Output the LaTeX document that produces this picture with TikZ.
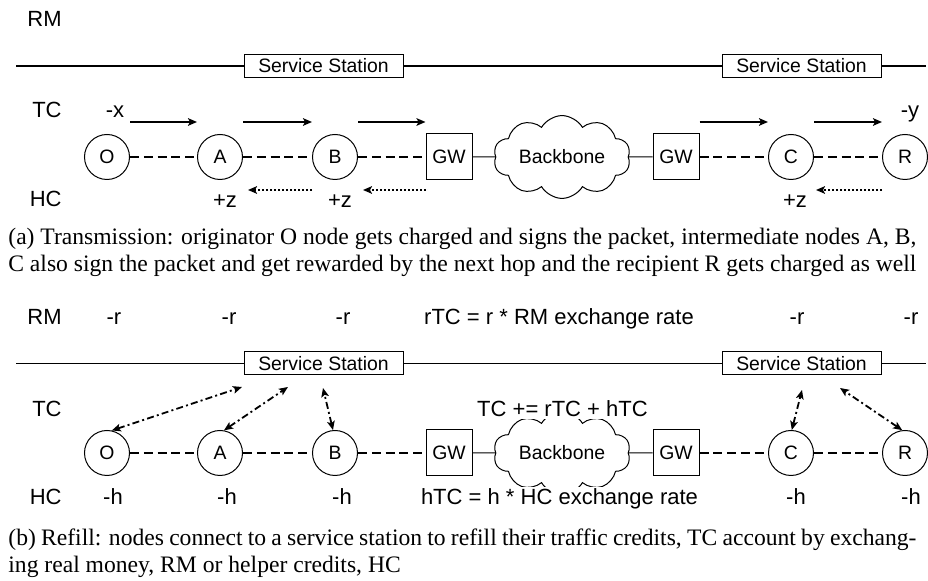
\documentclass[tikz,border=0pt]{standalone}
\usepackage{fontspec}
\setmainfont{Liberation Serif}
\setsansfont{Liberation Sans}
\usetikzlibrary{shapes.symbols,arrows.meta,calc}

\tikzset{
  lbl/.style={font=\fontsize{11pt}{13pt}\selectfont\sffamily, inner sep=0pt, anchor=base},
  rowlbl/.style={lbl, anchor=base east},
  nd/.style={circle, draw, line width=0.5pt, minimum size=22.5pt, inner sep=0pt,
    font=\fontsize{9.7pt}{11pt}\selectfont\sffamily},
  gw/.style={rectangle, draw, line width=0.5pt, minimum size=23pt, inner sep=0pt,
    font=\fontsize{9.7pt}{11pt}\selectfont\sffamily},
  station/.style={rectangle, draw, fill=white, line width=0.5pt, minimum width=79.5pt,
    minimum height=11.5pt, inner sep=0pt, font=\fontsize{9.7pt}{11pt}\selectfont\sffamily},
  bb/.style={cloud, draw, cloud puffs=10, cloud puff arc=120, aspect=1.9,
    minimum width=68.5pt, minimum height=35pt, inner sep=0pt, line width=0.5pt,
    font=\fontsize{9.7pt}{11pt}\selectfont\sffamily},
  link/.style={line width=0.9pt, dash pattern=on 4.5pt off 2.4pt},
  wire/.style={line width=0.5pt},
  rail/.style={line width=0.7pt},
  fwd/.style={line width=1pt, -{Stealth[length=4.5pt,width=3.8pt,inset=1pt]}},
  reward/.style={line width=1pt, dash pattern=on 1pt off 1pt,
    -{Stealth[length=4.5pt,width=3.8pt,inset=1pt]}},
  refill/.style={line width=0.9pt, dash pattern=on 3.5pt off 1.6pt on 1pt off 1.6pt,
    {Stealth[length=4.5pt,width=3.8pt,inset=1pt]}-{Stealth[length=4.5pt,width=3.8pt,inset=1pt]}},
  captext/.style={font=\fontsize{11.8pt}{13.5pt}\selectfont\rmfamily, inner sep=0pt, anchor=base west}
}

\begin{document}
\begin{tikzpicture}[x=0.5pt, y=-0.5pt]
\fill[white] (0,0) rectangle (928,581);
\useasboundingbox (0,0) rectangle (928,581);

% ---------------- (a) transmission ----------------
\node[rowlbl] (rmA) at (62,27) {RM};
\node[rowlbl] (tcA) at (62,118) {TC};
\node[rowlbl] (hcA) at (62,207) {HC};

% service station rail
\coordinate (railAl) at (16,66);
\coordinate (railAr) at (926,66);
\node[station] (ssA1) at (323.5,66) {Service Station};
\node[station] (ssA2) at (801.5,66) {Service Station};
\draw[rail] (railAl) -- (ssA1.west);
\draw[rail] (ssA1.east) -- (ssA2.west);
\draw[rail] (ssA2.east) -- (railAr);

% path of the packet
\node[nd] (oA) at (107,157) {O};
\node[nd] (aA) at (220,157) {A};
\node[nd] (bA) at (335,157) {B};
\node[gw] (gA1) at (449,157) {GW};
\node[bb] (cloudA) at (562,157) {Backbone};
\node[gw] (gA2) at (676,157) {GW};
\node[nd] (cA) at (791,157) {C};
\node[nd] (rA) at (905,157) {R};

\draw[link] (oA) -- (aA);
\draw[link] (aA) -- (bA);
\draw[link] (bA) -- (gA1);
\draw[wire] (gA1) -- (cloudA);
\draw[wire] (cloudA) -- (gA2);
\draw[link] (gA2) -- (cA);
\draw[link] (cA) -- (rA);

% traffic credits flow forward
\draw[fwd] ($(oA.east)+(0,-35)$) -- ($(aA.west)+(0,-35)$);
\draw[fwd] ($(aA.east)+(0,-35)$) -- ($(bA.west)+(0,-35)$);
\draw[fwd] ($(bA.east)+(0,-35)$) -- ($(gA1.west)+(0,-35)$);
\draw[fwd] ($(gA2.east)+(0,-35)$) -- ($(cA.west)+(0,-35)$);
\draw[fwd] ($(cA.east)+(0,-35)$) -- ($(rA.west)+(0,-35)$);

% helper credits flow back
\draw[reward] ($(bA.west)+(0,33)$) -- ($(aA.east)+(5,33)$);
\draw[reward] ($(gA1.west)+(0,33)$) -- ($(bA.east)+(5,33)$);
\draw[reward] ($(rA.west)+(0,33)$) -- ($(cA.east)+(2,33)$);

\node[lbl] (mx) at (115,118) {-x};
\node[lbl] (my) at (910,118) {-y};
\node[lbl] (pz1) at (225,208) {+z};
\node[lbl] (pz2) at (340,208) {+z};
\node[lbl] (pz3) at (795,208) {+z};

\node[captext] (capA1) at (8,245) {\makebox[454pt][s]{(a) Transmission: originator O node gets charged and signs the packet, intermediate nodes A, B,}};
\node[captext] (capA2) at (8,272) {\makebox[454pt][s]{C also sign the packet and get rewarded by the next hop and the recipient R gets charged as well}};

% ---------------- (b) refill ----------------
\node[rowlbl] (rmB) at (62,325) {RM};
\node[rowlbl] (tcB) at (62,416.5) {TC};
\node[rowlbl] (hcB) at (62,505) {HC};

\coordinate (railBl) at (16,363.5);
\coordinate (railBr) at (926,363.5);
\node[station] (ssB1) at (323.5,363.5) {Service Station};
\node[station] (ssB2) at (801.5,363.5) {Service Station};
\draw[rail] (railBl) -- (ssB1.west);
\draw[rail] (ssB1.east) -- (ssB2.west);
\draw[rail] (ssB2.east) -- (railBr);

\node[nd] (oB) at (107,453) {O};
\node[nd] (aB) at (220,453) {A};
\node[nd] (bB) at (335,453) {B};
\node[gw] (gB1) at (449,453) {GW};
\node[bb] (cloudB) at (562,453) {Backbone};
\node[gw] (gB2) at (676,453) {GW};
\node[nd] (cB) at (791,453) {C};
\node[nd] (rB) at (905,453) {R};

\draw[link] (oB) -- (aB);
\draw[link] (aB) -- (bB);
\draw[link] (bB) -- (gB1);
\draw[wire] (gB1) -- (cloudB);
\draw[wire] (cloudB) -- (gB2);
\draw[link] (gB2) -- (cB);
\draw[link] (cB) -- (rB);

% exchanges with the service stations
\coordinate (sO) at (242,387);
\coordinate (sA) at (288,387);
\coordinate (sB) at (323,388);
\coordinate (sC) at (802,390);
\coordinate (sR) at (840,388);
\draw[refill] (oB.78) -- (sO);
\draw[refill] (aB.80) -- (sA);
\draw[refill] (bB.95) -- (sB);
\draw[refill] (cB.88) -- (sC);
\draw[refill] (rB.97) -- (sR);

\node[lbl] (r1) at (114,325) {-r};
\node[lbl] (r2) at (229,325) {-r};
\node[lbl] (r3) at (343,325) {-r};
\node[lbl] (rtc) at (559,325) {rTC = r * RM exchange rate};
\node[lbl] (r4) at (797,325) {-r};
\node[lbl] (r5) at (911,325) {-r};

\node[lbl, fill=white, inner ysep=1pt] (sum) at (562.5,416.5) {TC += rTC + hTC};
\node[lbl, fill=white, inner ysep=1pt] (htc) at (559.5,505) {hTC = h * HC exchange rate};
\node[lbl] (h1) at (113,505) {-h};
\node[lbl] (h2) at (227,505) {-h};
\node[lbl] (h3) at (342,505) {-h};
\node[lbl] (h4) at (796,505) {-h};
\node[lbl] (h5) at (911,505) {-h};

\node[captext] (capB1) at (8,546) {\makebox[454pt][s]{(b) Refill: nodes connect to a service station to refill their traffic credits, TC account by exchang-}};
\node[captext] (capB2) at (8,573) {ing real money, RM or helper credits, HC};
\end{tikzpicture}
\end{document}
